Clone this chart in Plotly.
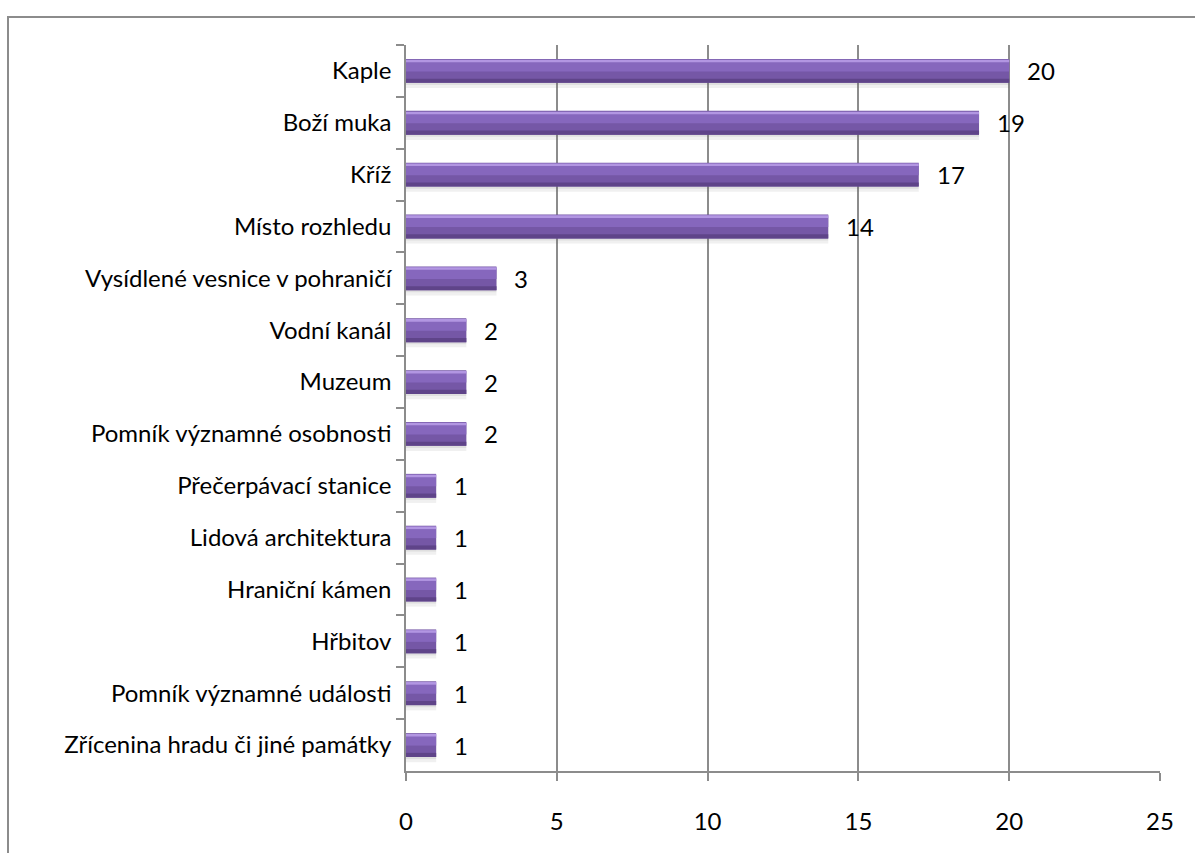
import plotly.graph_objects as go

categories = [
    "Kaple", "Boží muka", "Kříž", "Místo rozhledu",
    "Vysídlené vesnice v pohraničí", "Vodní kanál", "Muzeum",
    "Pomník významné osobnosti", "Přečerpávací stanice",
    "Lidová architektura", "Hraniční kámen", "Hřbitov",
    "Pomník významné události", "Zřícenina hradu či jiné památky",
]
values = [20, 19, 17, 14, 3, 2, 2, 2, 1, 1, 1, 1, 1, 1]
x_ticks = [0, 5, 10, 15, 20, 25]

FONT = "Lato"
FS = 24
W, H = 1195, 853
ML, MR, MT, MB = 406, 35, 45, 82

fig = go.Figure()

def band(offset, width, color):
    fig.add_trace(go.Bar(y=categories, x=values, orientation="h", offset=offset, width=width,
                         marker=dict(color=color, line=dict(width=0)),
                         hoverinfo="skip", showlegend=False))

# soft shadow
band(-0.17, 0.50, "rgba(110,110,110,0.10)")
band(-0.19, 0.46, "rgba(110,110,110,0.12)")
# main body
band(-0.23, 0.46, "#7557A6")
# upper lighter half
band(-0.21, 0.22, "#8667BD")
# top highlight
band(-0.215, 0.05, "#B296E2")
# lower dark edge
band(0.15, 0.08, "#5F4489")

for c, v in zip(categories, values):
    fig.add_annotation(x=v, y=c, text=str(v), showarrow=False, xanchor="left",
                       xshift=16, font=dict(family=FONT, size=FS, color="#000000"))

px = lambda p: (p - ML) / (W - ML - MR)
py = lambda p: (H - MB - p) / (H - MT - MB)
fig.add_shape(type="rect", xref="paper", yref="paper",
              x0=px(8), x1=px(1205), y0=py(863), y1=py(17),
              line=dict(color="#8C8C8C", width=2), fillcolor="rgba(0,0,0,0)", layer="below")

fig.update_layout(
    width=W, height=H,
    margin=dict(l=ML, r=MR, t=MT, b=MB),
    paper_bgcolor="white", plot_bgcolor="white",
    barmode="overlay",
    font=dict(family=FONT, size=FS, color="#000000"),
    xaxis=dict(range=[0, 25], tickvals=x_ticks, showgrid=True, gridcolor="#8C8C8C",
               gridwidth=1.5, showline=True, linecolor="#8C8C8C", linewidth=1.5,
               ticks="outside", ticklen=8, tickcolor="#8C8C8C", tickwidth=1.5,
               ticklabelstandoff=20, zeroline=False,
               tickfont=dict(family=FONT, size=FS, color="#000000")),
    yaxis=dict(type="category", categoryorder="array", categoryarray=categories,
               autorange="reversed", showgrid=False, showline=True, linecolor="#8C8C8C",
               linewidth=1.5, ticks="outside", tickson="boundaries", ticklen=8,
               tickcolor="#8C8C8C", tickwidth=1.5, ticklabelstandoff=8,
               tickfont=dict(family=FONT, size=FS, color="#000000")),
)

fig.write_html("out.html")
